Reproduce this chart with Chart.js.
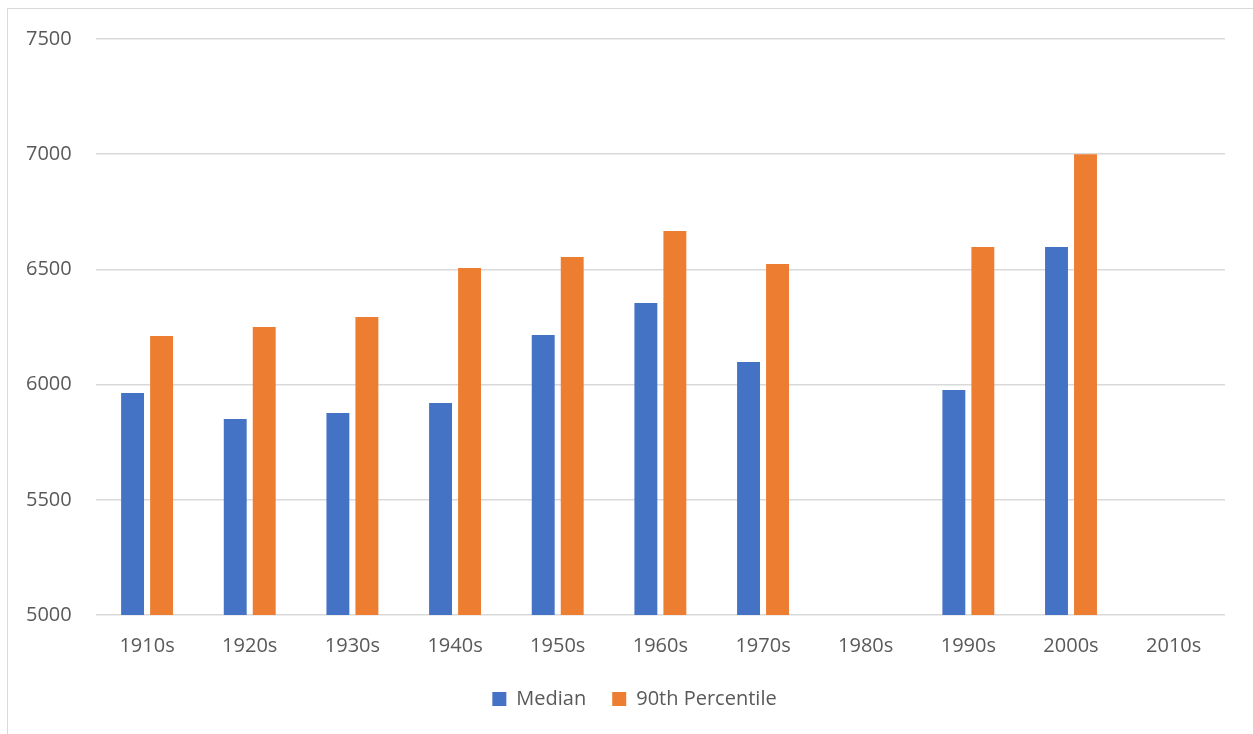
<!DOCTYPE html>
<html>
<head>
<meta charset="utf-8">
<script src="https://cdn.jsdelivr.net/npm/chart.js@4.4.1/dist/chart.umd.min.js"></script>
<style>
  html, body { margin: 0; padding: 0; background: #ffffff; }
  #wrap { position: relative; width: 1253px; height: 734px; overflow: hidden; }
  #frame { position: absolute; left: 7px; top: 8px; width: 1250px; height: 740px;
           border: 1px solid #d9d9d9; box-sizing: border-box; pointer-events: none; }
  #c { position: absolute; left: 0; top: 3px; }
</style>
</head>
<body>
<div id="wrap">
  <canvas id="c" width="1253" height="731"></canvas>
  <div id="frame"></div>
</div>
<script>
// Decades shown on the horizontal axis
const decades = ['1910s', '1920s', '1930s', '1940s', '1950s', '1960s', '1970s', '1980s', '1990s', '2000s', '2010s'];
// Median value per decade (no data for 1980s and 2010s)
const medianValues = [5964, 5851, 5877, 5920, 6215, 6354, 6098, null, 5977, 6597, null];
// 90th percentile value per decade
const p90Values = [6211, 6250, 6293, 6506, 6554, 6667, 6523, null, 6597, 7000, null];
// Value axis range
const yMin = 5000;
const yMax = 7500;
const yStep = 500;

const textColor = '#595959';
const fontFamily = '"Open Sans", "Noto Sans", sans-serif';

// Nudge the legend so it sits centred under the frame rather than the canvas
const legendShift = {
  id: 'legendShift',
  afterLayout(chart) {
    const lg = chart.legend;
    if (lg) { lg.left += 21; lg.right += 21; }
  }
};

new Chart(document.getElementById('c'), {
  type: 'bar',
  data: {
    labels: decades,
    datasets: [
      {
        label: 'Median',
        data: medianValues,
        backgroundColor: '#4472C4',
        categoryPercentage: 0.565,
        barPercentage: 0.79
      },
      {
        label: '90th Percentile',
        data: p90Values,
        backgroundColor: '#ED7D31',
        categoryPercentage: 0.565,
        barPercentage: 0.79
      }
    ]
  },
  plugins: [legendShift],
  options: {
    responsive: false,
    animation: false,
    layout: { padding: { left: 2, right: 28, top: 32, bottom: 15 } },
    plugins: {
      title: { display: false },
      tooltip: { enabled: false },
      legend: {
        position: 'bottom',
        labels: {
          color: textColor,
          font: { family: fontFamily, size: 20 },
          boxWidth: 14,
          boxHeight: 14,
          padding: 26
        }
      }
    },
    scales: {
      x: {
        grid: { display: false },
        border: { display: false },
        ticks: {
          color: textColor,
          font: { family: fontFamily, size: 20 },
          padding: 11,
          maxRotation: 0
        },
        afterFit: (scale) => { scale.height -= 6; }
      },
      y: {
        min: yMin,
        max: yMax,
        grid: { color: '#d9d9d9', lineWidth: 1.5, drawTicks: false },
        border: { display: false },
        ticks: {
          stepSize: yStep,
          color: textColor,
          font: { family: fontFamily, size: 20 },
          padding: 24,
          callback: (value) => String(value)
        }
      }
    }
  }
});
</script>
</body>
</html>
